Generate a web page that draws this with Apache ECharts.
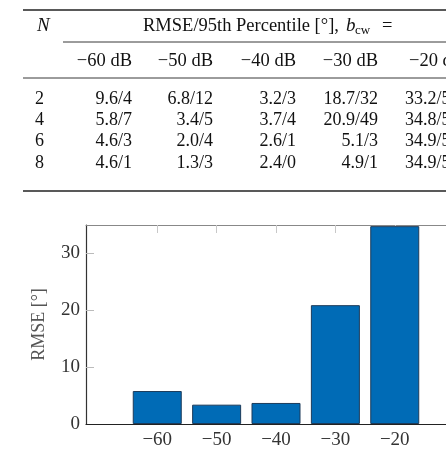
<!DOCTYPE html>
<html>
<head>
<meta charset="utf-8">
<script src="https://cdn.jsdelivr.net/npm/echarts@6/dist/echarts.min.js"></script>
<style>
  html, body { margin: 0; padding: 0; background: #fff; }
  #main { width: 446px; height: 458px; }
</style>
</head>
<body>
<div id="main"></div>
<script>
// b_cw levels (dB) and RMSE bars (N = 4 row of the table)
const bcwLevels = [-60, -50, -40, -30, -20]
const rmseValues = [5.8, 3.4, 3.7, 20.9, 34.8]
const yTickValues = [0, 10, 20, 30]

// table above the chart
const colHeaders = ['−60 dB', '−50 dB', '−40 dB', '−30 dB', '−20 dB']
const nValues = ['2', '4', '6', '8']
const tableRows = [
  ['9.6/4', '6.8/12', '3.2/3', '18.7/32', '33.2/5'],
  ['5.8/7', '3.4/5', '3.7/4', '20.9/49', '34.8/5'],
  ['4.6/3', '2.0/4', '2.6/1', '5.1/3', '34.9/5'],
  ['4.6/1', '1.3/3', '2.4/0', '4.9/1', '34.9/5'],
]

const serif = '"Liberation Serif", "Times New Roman", serif'
const tableFont = '18px ' + serif
const headFont = '18.5px ' + serif
const colRight = [132, 213, 296, 378]
const lastColLeft = 405
const rowY = [99, 120, 141, 163]

function txt(text, x, y, align, font, extra) {
  return {
    type: 'text',
    silent: true,
    style: Object.assign({
      text: text,
      x: x,
      y: y,
      font: font || tableFont,
      fill: '#111',
      textAlign: align || 'left',
      textVerticalAlign: 'middle',
    }, extra || {}),
  }
}

function rule(x1, y, x2, w) {
  return {
    type: 'line',
    silent: true,
    shape: { x1: x1, y1: y, x2: x2, y2: y },
    style: { stroke: '#222', lineWidth: w },
  }
}

const graphics = [
  rule(23, 10, 446, 1.4),
  rule(63, 42, 446, 0.9),
  rule(23, 78, 446, 0.9),
  rule(23, 191, 446, 1.4),
  txt('N', 37, 26, 'left', 'italic 19px ' + serif),
  txt('RMSE/95th Percentile [°],', 143, 26, 'left', headFont),
  txt('b', 346, 26, 'left', 'italic 19px ' + serif),
  txt('cw', 355, 31, 'left', '13px ' + serif),
  txt('=', 382, 26, 'left', headFont),
]

colHeaders.forEach((h, i) => {
  if (i < 4)
    graphics.push(txt(h, colRight[i], 61, 'right', headFont))
  else
    graphics.push(txt(h, 409, 61, 'left', headFont))
})

tableRows.forEach((row, r) => {
  graphics.push(txt(nValues[r], 35, rowY[r], 'left'))
  row.forEach((cell, c) => {
    if (c < 4)
      graphics.push(txt(cell, colRight[c], rowY[r], 'right'))
    else
      graphics.push(txt(cell, lastColLeft, rowY[r], 'left'))
  })
})

const chart = echarts.init(document.getElementById('main'), null, { renderer: 'canvas' })

const option = {
  animation: false,
  backgroundColor: '#fff',
  graphic: graphics,
  grid: {
    left: 86,
    top: 225,
    height: 199,
    width: 380,
    outerBoundsMode: 'none',
    containLabel: false,
  },
  xAxis: [
    {
      type: 'value',
      position: 'bottom',
      min: -72,
      max: -8,
      axisLine: { show: true, lineStyle: { color: '#222', width: 1.2 } },
      axisTick: {
        show: true,
        inside: true,
        length: 8,
        customValues: bcwLevels,
        lineStyle: { color: '#bbb' },
      },
      axisLabel: {
        customValues: bcwLevels,
        formatter: v => '−' + Math.abs(v),
        fontFamily: serif,
        fontSize: 19,
        color: '#333',
        margin: 7,
      },
      splitLine: { show: false },
    },
    {
      type: 'value',
      position: 'top',
      min: -72,
      max: -8,
      axisLine: { show: true, lineStyle: { color: '#888', width: 1 } },
      axisTick: {
        show: true,
        inside: true,
        length: 8,
        customValues: bcwLevels,
        lineStyle: { color: '#c8c8c8' },
      },
      axisLabel: { show: false },
      splitLine: { show: false },
    },
  ],
  yAxis: {
    type: 'value',
    min: 0,
    max: 35,
    interval: 10,
    name: 'RMSE [°]',
    nameLocation: 'middle',
    nameRotate: 90,
    nameGap: 38,
    nameTextStyle: { fontFamily: serif, fontSize: 18, color: '#555' },
    axisLine: { show: true, lineStyle: { color: '#333', width: 1.2 } },
    axisTick: {
      show: true,
      inside: true,
      length: 8,
      customValues: [10, 20, 30],
      lineStyle: { color: '#bbb' },
    },
    axisLabel: {
      customValues: yTickValues,
      fontFamily: serif,
      fontSize: 19,
      color: '#333',
      margin: 6,
    },
    splitLine: { show: false },
  },
  series: [
    {
      type: 'bar',
      xAxisIndex: 0,
      barWidth: 49,
      data: bcwLevels.map((x, i) => [x, rmseValues[i]]),
      itemStyle: {
        color: '#006bb6',
        borderColor: '#1c3b5a',
        borderWidth: 1,
      },
    },
  ],
}

chart.setOption(option)
</script>
</body>
</html>
